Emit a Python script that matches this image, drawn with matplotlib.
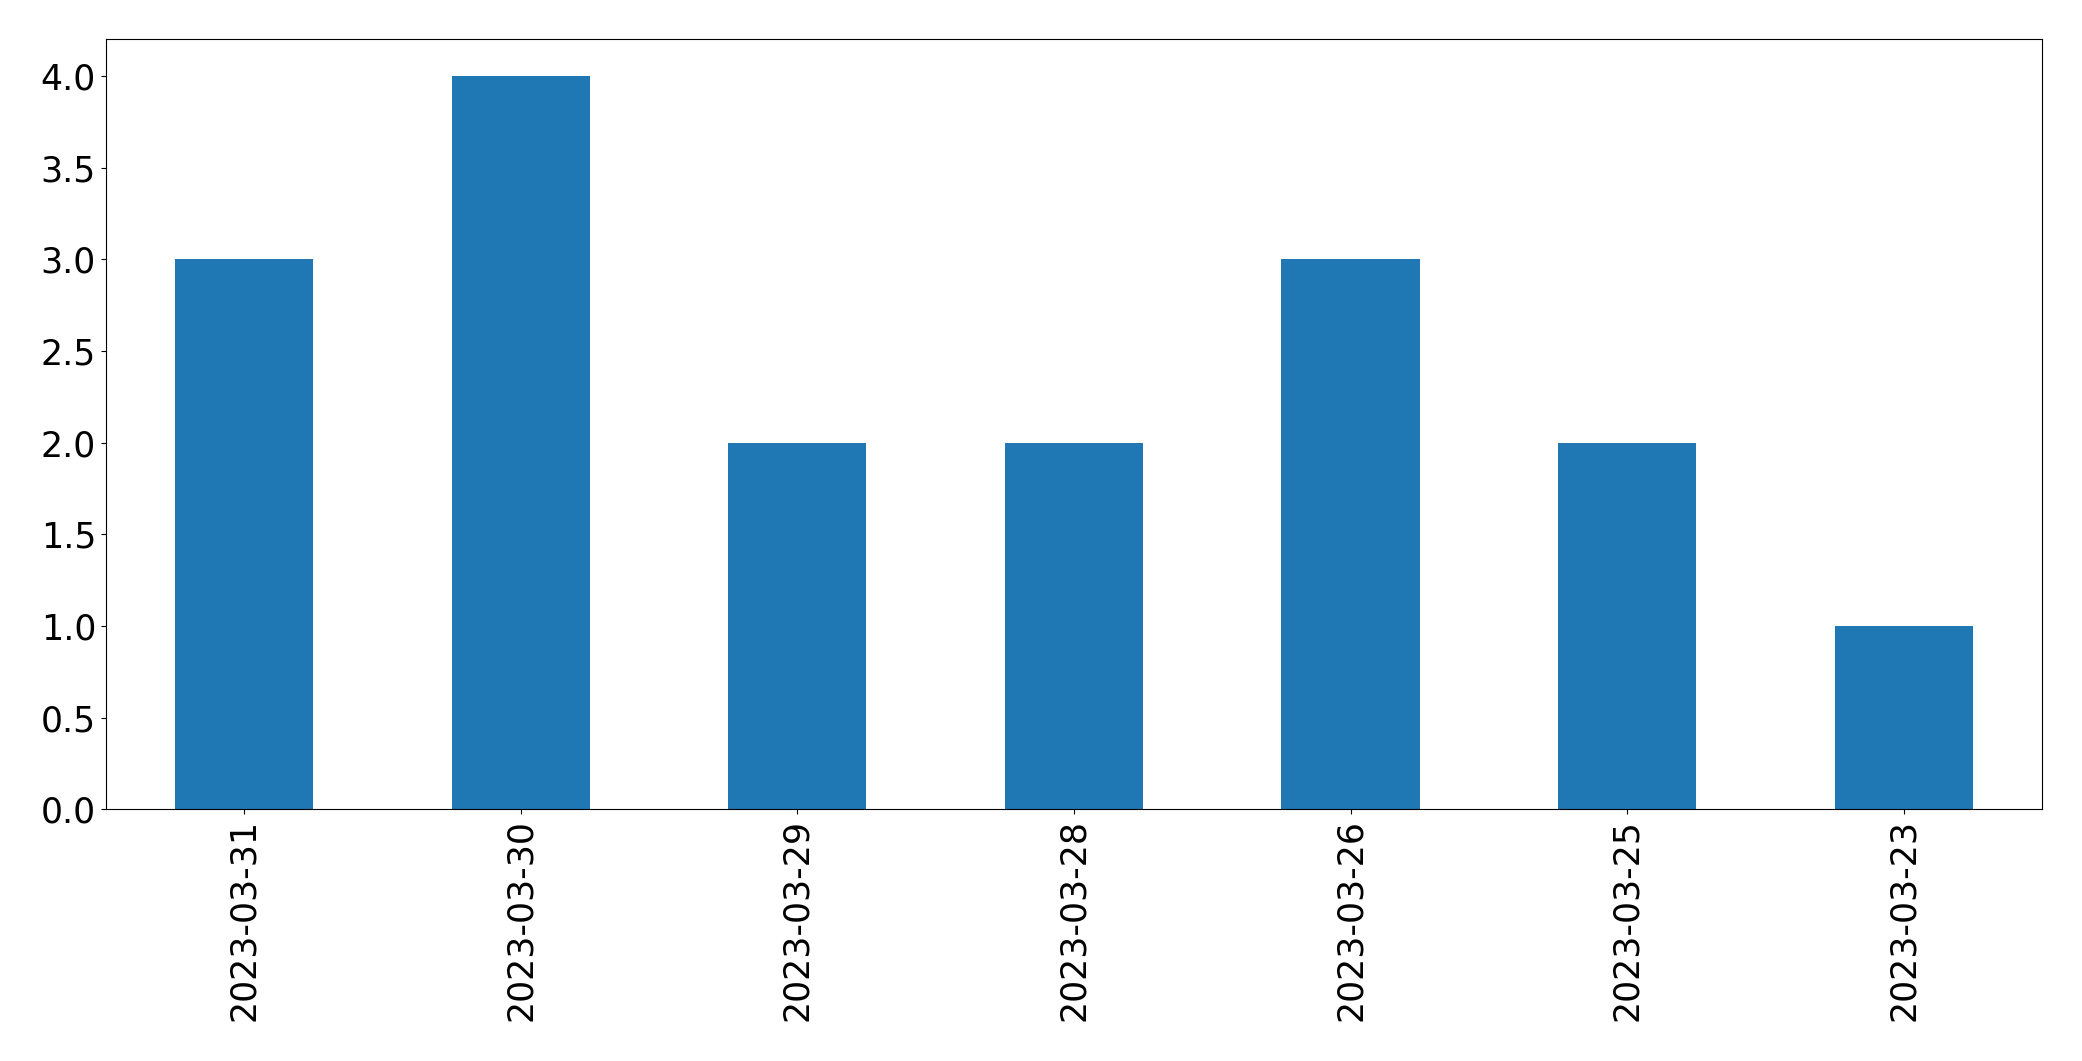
import pandas as pd
import matplotlib
matplotlib.use('Agg')
import matplotlib.pyplot as plt

# Datos
fechas = ['2023-03-31', '2023-03-30', '2023-03-29', '2023-03-28',
          '2023-03-26', '2023-03-25', '2023-03-23']
conteos = [3, 4, 2, 2, 3, 2, 1]

serie = pd.Series(conteos, index=fechas)

fig = plt.figure(figsize=(20.82, 10.61), dpi=100)
ax = fig.add_axes([0.0508, 0.2372, 0.9300, 0.7258])

serie.plot(kind='bar', ax=ax, color='#1f77b4', width=0.5)

ax.tick_params(axis='both', labelsize=25)
ax.set_ylim(0, 4.2)
ax.set_xlim(-0.5, len(fechas) - 0.5)

fig.savefig('out.png', dpi=100)
